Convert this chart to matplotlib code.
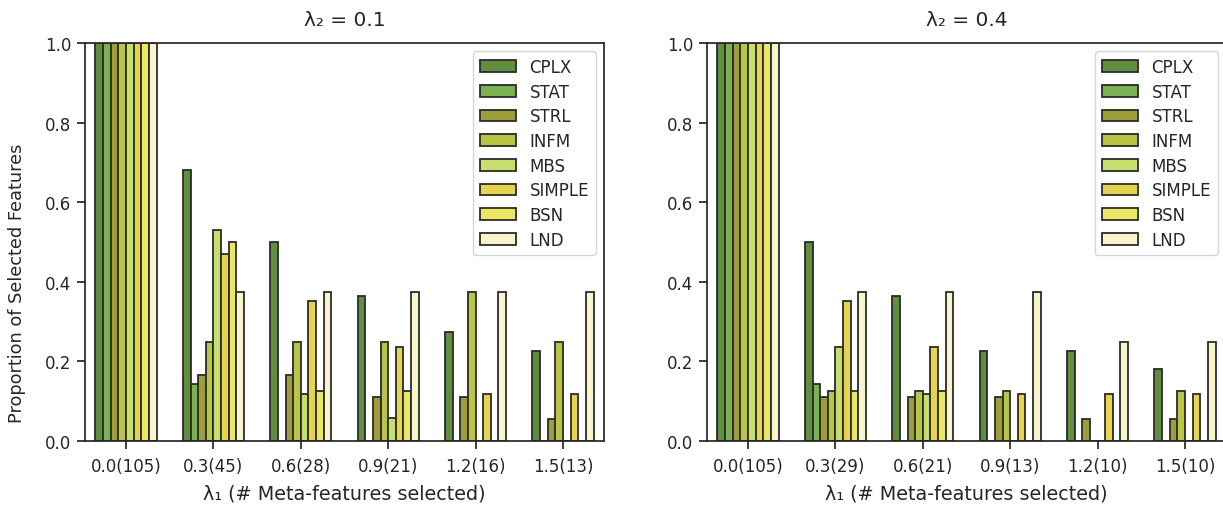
import matplotlib
matplotlib.use("Agg")
import matplotlib.pyplot as plt
import numpy as np

categories = ["CPLX", "STAT", "STRL", "INFM", "MBS", "SIMPLE", "BSN", "LND"]
colors = ["#5f8e3e", "#7cb151", "#9e9e38", "#b9c544", "#c5de6c", "#e6d44f", "#e9e763", "#f8f4cb"]

lambda2_titles = ["λ₂ = 0.1", "λ₂ = 0.4"]
xlabels_left = ["0.0(105)", "0.3(45)", "0.6(28)", "0.9(21)", "1.2(16)", "1.5(13)"]
xlabels_right = ["0.0(105)", "0.3(29)", "0.6(21)", "0.9(13)", "1.2(10)", "1.5(10)"]

# values[category] -> list over lambda1 groups
left_vals = {
    "CPLX":   [1.0, 0.682, 0.500, 0.364, 0.273, 0.227],
    "STAT":   [1.0, 0.143, 0.0,   0.0,   0.0,   0.0],
    "STRL":   [1.0, 0.167, 0.167, 0.111, 0.111, 0.056],
    "INFM":   [1.0, 0.250, 0.250, 0.250, 0.375, 0.250],
    "MBS":    [1.0, 0.529, 0.118, 0.059, 0.0,   0.0],
    "SIMPLE": [1.0, 0.471, 0.353, 0.235, 0.118, 0.118],
    "BSN":    [1.0, 0.500, 0.125, 0.125, 0.0,   0.0],
    "LND":    [1.0, 0.375, 0.375, 0.375, 0.375, 0.375],
}
right_vals = {
    "CPLX":   [1.0, 0.500, 0.364, 0.227, 0.227, 0.182],
    "STAT":   [1.0, 0.143, 0.0,   0.0,   0.0,   0.0],
    "STRL":   [1.0, 0.111, 0.111, 0.111, 0.056, 0.056],
    "INFM":   [1.0, 0.125, 0.125, 0.125, 0.0,   0.125],
    "MBS":    [1.0, 0.235, 0.118, 0.0,   0.0,   0.0],
    "SIMPLE": [1.0, 0.353, 0.235, 0.118, 0.118, 0.118],
    "BSN":    [1.0, 0.125, 0.125, 0.0,   0.0,   0.0],
    "LND":    [1.0, 0.375, 0.375, 0.375, 0.250, 0.250],
}

plt.rcParams["font.family"] = ["DejaVu Sans"]
dark = "#262626"
plt.rcParams.update({
    "axes.edgecolor": dark, "axes.linewidth": 1.25,
    "xtick.color": dark, "ytick.color": dark,
    "xtick.major.size": 6, "ytick.major.size": 6,
    "xtick.major.width": 1.25, "ytick.major.width": 1.25,
    "xtick.major.pad": 5.5, "ytick.major.pad": 4,
    "text.color": dark, "axes.labelcolor": dark,
})

fig = plt.figure(figsize=(12.23, 5.06), dpi=100)
bottom = (506 - 442) / 506
height = (442 - 44) / 506
axL = fig.add_axes([85 / 1223, bottom, 519 / 1223, height])
axR = fig.add_axes([707 / 1223, bottom, 519 / 1223, height])

w = 0.0875
n = len(categories)
for ax, vals, xl, title in [(axL, left_vals, xlabels_left, lambda2_titles[0]),
                            (axR, right_vals, xlabels_right, lambda2_titles[1])]:
    x = np.arange(len(xl))
    for j, cat in enumerate(categories):
        offs = (j - (n - 1) / 2) * w
        ax.bar(x + offs, vals[cat], width=w, color=colors[j], edgecolor="#2b2b2b",
               linewidth=1.3, label=cat)
    ax.set_xlim(-0.47, len(xl) - 0.53)
    ax.set_ylim(0, 1.0)
    ax.set_yticks([0.0, 0.2, 0.4, 0.6, 0.8, 1.0])
    ax.set_yticklabels(["0.0", "0.2", "0.4", "0.6", "0.8", "1.0"])
    ax.set_xticks(x)
    ax.set_xticklabels(xl)
    ax.tick_params(labelsize=12)
    ax.set_xlabel("λ₁ (# Meta-features selected)", fontsize=13.8, labelpad=6)
    ax.set_title(title, fontsize=14.5, pad=13)
    leg = ax.legend(loc="upper right", fontsize=12, frameon=True,
                    handlelength=2.2, labelspacing=0.4, borderpad=0.4,
                    handletextpad=0.8, fancybox=True, borderaxespad=0.5)
    leg.get_frame().set_edgecolor("#cccccc")

fig.text(17.5 / 1223, 1 - 283 / 506, "Proportion of Selected Features",
         rotation=90, ha="center", va="center", fontsize=12.8, color=dark)

fig.savefig("out.png", dpi=100)
